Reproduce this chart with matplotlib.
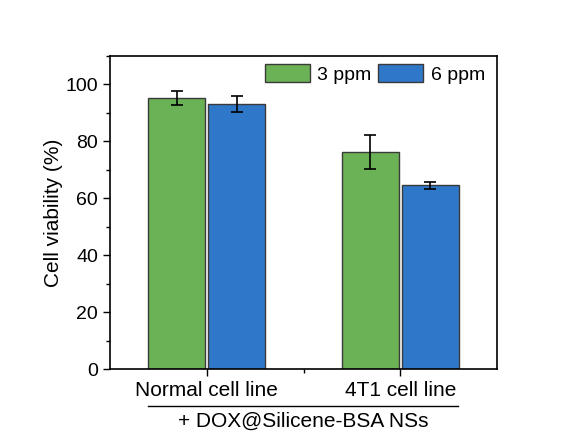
import numpy as np
import matplotlib
matplotlib.use("Agg")
import matplotlib.pyplot as plt
from matplotlib.ticker import MultipleLocator, FixedLocator

plt.rcParams["font.family"] = ["Liberation Sans", "DejaVu Sans"]

groups = ["Normal cell line", "4T1 cell line"]
series = ["3 ppm", "6 ppm"]
viability_3ppm = [95.3, 76.2]
viability_6ppm = [93.2, 64.5]
err_3ppm = [2.4, 6.0]
err_6ppm = [2.8, 1.1]

colors = ["#6bb155", "#2f78c9"]

fig = plt.figure(figsize=(5.63, 4.33), dpi=100)
ax = fig.add_axes([0.1954, 0.1478, 0.6874, 0.7229])

x = np.arange(1, len(groups) + 1)
w = 0.295
off = 0.155
for vals, errs, dx, c, lab in [(viability_3ppm, err_3ppm, -off, colors[0], series[0]),
                               (viability_6ppm, err_6ppm, off, colors[1], series[1])]:
    ax.bar(x + dx, vals, width=w, color=c, edgecolor="#3a3a3a", linewidth=1.0, label=lab,
           yerr=errs, capsize=4, error_kw=dict(ecolor="black", elinewidth=1.2, capthick=1.2))

ax.set_xlim(0.5, 2.5)
ax.set_ylim(0, 110)
ax.set_xticks(x)
ax.set_xticklabels(groups, fontsize=15)
ax.xaxis.set_minor_locator(FixedLocator([1.5]))
ax.yaxis.set_major_locator(FixedLocator([0, 20, 40, 60, 80, 100]))
ax.yaxis.set_minor_locator(MultipleLocator(10))
ax.tick_params(axis="y", labelsize=14)
ax.tick_params(which="major", length=5, width=1.0, direction="out")
ax.tick_params(which="minor", length=3, width=1.0, direction="out")
for s in ax.spines.values():
    s.set_linewidth(1.2)
ax.set_ylabel("Cell viability (%)", fontsize=15, labelpad=2)

ax.legend(loc="upper left", bbox_to_anchor=(0.40, 0.975), ncol=2, frameon=False,
          fontsize=14, handlelength=2.3, handleheight=1.1, handletextpad=0.4,
          columnspacing=0.35, borderpad=0, borderaxespad=0)

# bracket line and treatment label under the group names
ax.plot([0.098, 0.899], [-0.118, -0.118], transform=ax.transAxes, color="black",
        lw=1.0, clip_on=False)
ax.text(0.5, -0.168, "+ DOX@Silicene-BSA NSs", transform=ax.transAxes,
        ha="center", va="center", fontsize=15)

fig.savefig("out.png", dpi=100)
